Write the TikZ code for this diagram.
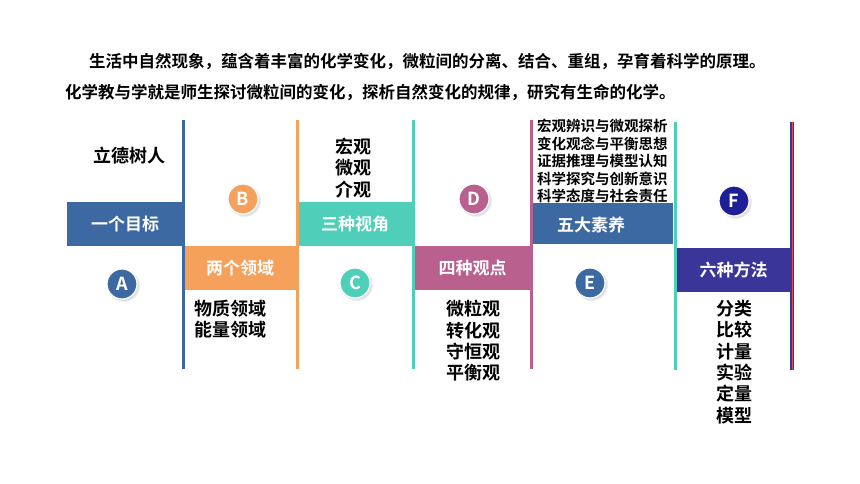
\documentclass[tikz,border=0pt]{standalone}
\usepackage{fontspec}
\newfontfamily\cjk{Noto Sans CJK SC}[UprightFont=* Bold]
\usetikzlibrary{shadows}

\definecolor{goalblue}{RGB}{61,105,162}
\definecolor{fieldorange}{RGB}{245,160,91}
\definecolor{viewteal}{RGB}{79,207,186}
\definecolor{pointpink}{RGB}{185,96,143}
\definecolor{methodpurple}{RGB}{58,53,153}
\definecolor{fnavy}{RGB}{30,30,150}
\definecolor{linered}{RGB}{220,80,90}

\begin{document}
\begin{tikzpicture}[x=1pt,y=-1pt,
	bar/.style={line width=3pt},
	box/.style={rectangle,minimum width=114pt,minimum height=44pt,inner sep=0pt,text=white,font=\cjk\fontsize{17}{20}\selectfont},
	dot/.style={circle,draw=white,line width=1.2pt,minimum size=30pt,inner sep=0pt,text=white,font=\cjk\fontsize{18}{18}\selectfont,circular drop shadow={shadow scale=1.12,opacity=0.25}},
	txt/.style={inner sep=0pt,anchor=west,align=left,font=\cjk\fontsize{18}{21.3}\selectfont}]
	\useasboundingbox (0,0) rectangle (860,484);

	\node[txt,font=\cjk\fontsize{16.5}{20}\selectfont] (intro1) at (89,62) {生活中自然现象，蕴含着丰富的化学变化，微粒间的分离、结合、重组，孕育着科学的原理。};
	\node[txt,font=\cjk\fontsize{16.5}{20}\selectfont] (intro2) at (65,92) {化学教与学就是师生探讨微粒间的变化，探析自然变化的规律，研究有生命的化学。};

	\coordinate (L1t) at (183,120);
	\coordinate (L1b) at (183,369);
	\coordinate (L2t) at (297,120);
	\coordinate (L2b) at (297,369);
	\coordinate (L3t) at (413.5,120);
	\coordinate (L3b) at (413.5,369);
	\coordinate (L4t) at (531.5,120);
	\coordinate (L4b) at (531.5,369);
	\coordinate (L5t) at (675,122);
	\coordinate (L5b) at (675,370);
	\coordinate (L6t) at (792,122);
	\coordinate (L6b) at (792,370);

	\node[box,fill=goalblue,minimum width=116pt] (B1) at (125,224) {一个目标};
	\node[box,fill=fieldorange] (B2) at (240,268) {两个领域};
	\node[box,fill=viewteal,minimum width=116pt] (B3) at (355,224) {三种视角};
	\node[box,fill=pointpink,minimum width=117pt] (B4) at (472.5,268) {四种观点};
	\node[box,fill=goalblue,minimum width=142pt,minimum height=41pt] (B5) at (602,223.5) {};
	\node[box,minimum width=0pt,minimum height=0pt] (B5t) at (591,225) {五大素养};
	\node[box,fill=methodpurple,minimum width=113pt] (B6) at (733.5,270) {六种方法};

	\draw [bar,goalblue] (L1t) -- (L1b);
	\draw [bar,fieldorange] (L2t) -- (L2b);
	\draw [bar,viewteal] (L3t) -- (L3b);
	\draw [bar,pointpink] (L4t) -- (L4b);
	\draw [bar,viewteal] (L5t) -- (L5b);
	\draw [bar,methodpurple,line width=4pt] (L6t) -- (L6b);
	\draw [linered,line width=0.6pt] (L6t) -- (L6b);

	\node[dot,fill=goalblue] (A) at (122,284) {A};
	\node[dot,fill=fieldorange] (B) at (243,199) {B};
	\node[dot,fill=viewteal] (C) at (355,283) {C};
	\node[dot,fill=pointpink] (D) at (474,199) {D};
	\node[dot,fill=goalblue] (E) at (590,283) {E};
	\node[dot,fill=fnavy] (F) at (734,201) {F};

	\node[txt,anchor=center] (goal) at (129,156) {立德树人};
	\node[txt] (views) at (335,168) {宏观\\微观\\介观};
	\node[txt] (fields) at (194,319.5) {物质领域\\能量领域};
	\node[txt] (points) at (446,341) {微粒观\\转化观\\守恒观\\平衡观};
	\node[txt,font=\cjk\fontsize{14.5}{17.5}\selectfont] (literacy) at (537,161) {宏观辨识与微观探析\\变化观念与平衡思想\\证据推理与模型认知\\科学探究与创新意识\\科学态度与社会责任};
	\node[txt] (methods) at (716,362) {分类\\比较\\计量\\实验\\定量\\模型};

\end{tikzpicture}
\end{document}
